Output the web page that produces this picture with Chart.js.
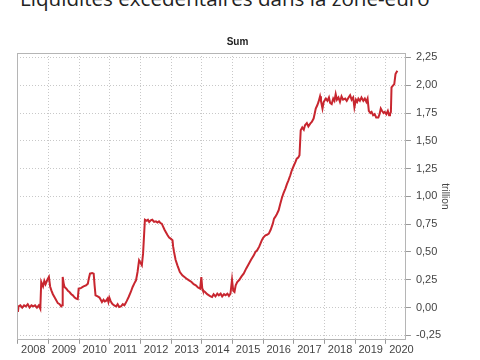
<!DOCTYPE html>
<html>
<head>
<meta charset="utf-8">
<script src="https://cdn.jsdelivr.net/npm/chart.js@4/dist/chart.umd.min.js"></script>
<style>
  html, body { margin: 0; padding: 0; background: #fff; width: 480px; height: 360px; overflow: hidden; }
  #heading { position: absolute; left: 20px; top: -13px; font-family: "Open Sans", "Liberation Sans", sans-serif; font-size: 20.6px; line-height: 22px; color: #222; white-space: nowrap; }
  #wrap { position: absolute; left: 0; top: 0; width: 480px; height: 360px; }
</style>
</head>
<body>
<div id="heading">Liquidités excédentaires dans la zone-euro</div>
<div id="wrap"><canvas id="c" width="480" height="360"></canvas></div>
<script>
// Decimal year of each observation
const years = [
  2008.00, 2008.02, 2008.08, 2008.14, 2008.20, 2008.26, 2008.32, 2008.38, 2008.44, 2008.50,
  2008.56, 2008.62, 2008.68, 2008.73, 2008.76, 2008.82, 2008.86, 2008.90, 2008.96, 2009.01,
  2009.05, 2009.09, 2009.14, 2009.19, 2009.24, 2009.30, 2009.36, 2009.41, 2009.44, 2009.46,
  2009.49, 2009.52, 2009.58, 2009.63, 2009.68, 2009.74, 2009.79, 2009.85, 2009.90, 2009.95,
  2009.98, 2010.05, 2010.14, 2010.22, 2010.28, 2010.31, 2010.35, 2010.42, 2010.47, 2010.50,
  2010.53, 2010.60, 2010.66, 2010.70, 2010.74, 2010.79, 2010.83, 2010.87, 2010.92, 2010.95,
  2010.98, 2011.02, 2011.06, 2011.09, 2011.14, 2011.20, 2011.25, 2011.30, 2011.36, 2011.42,
  2011.47, 2011.50, 2011.55, 2011.61, 2011.68, 2011.74, 2011.80, 2011.85, 2011.90, 2011.95,
  2012.00, 2012.04, 2012.08, 2012.14, 2012.20, 2012.24, 2012.28, 2012.33, 2012.38, 2012.44,
  2012.50, 2012.55, 2012.60, 2012.65, 2012.69, 2012.73, 2012.78, 2012.82, 2012.88, 2012.93,
  2012.98, 2013.04, 2013.06, 2013.09, 2013.14, 2013.20, 2013.28, 2013.36, 2013.45, 2013.52,
  2013.58, 2013.66, 2013.73, 2013.80, 2013.87, 2013.94, 2013.98, 2014.01, 2014.03, 2014.10,
  2014.17, 2014.23, 2014.28, 2014.33, 2014.38, 2014.44, 2014.50, 2014.55, 2014.61, 2014.66,
  2014.72, 2014.77, 2014.83, 2014.88, 2014.93, 2014.98, 2015.02, 2015.06, 2015.10, 2015.15,
  2015.22, 2015.29, 2015.36, 2015.44, 2015.53, 2015.60, 2015.69, 2015.74, 2015.80, 2015.87,
  2015.95, 2016.00, 2016.07, 2016.12, 2016.18, 2016.24, 2016.31, 2016.35, 2016.39, 2016.44,
  2016.50, 2016.55, 2016.61, 2016.66, 2016.72, 2016.77, 2016.82, 2016.88, 2016.93, 2017.00,
  2017.05, 2017.09, 2017.14, 2017.18, 2017.22, 2017.27, 2017.32, 2017.36, 2017.42, 2017.47,
  2017.53, 2017.58, 2017.64, 2017.68, 2017.71, 2017.76, 2017.80, 2017.85, 2017.88, 2017.93,
  2017.97, 2018.04, 2018.09, 2018.14, 2018.18, 2018.23, 2018.28, 2018.32, 2018.36, 2018.40,
  2018.45, 2018.50, 2018.55, 2018.60, 2018.67, 2018.72, 2018.78, 2018.83, 2018.88, 2018.93,
  2018.97, 2019.02, 2019.06, 2019.10, 2019.15, 2019.20, 2019.26, 2019.31, 2019.36, 2019.40,
  2019.44, 2019.49, 2019.53, 2019.58, 2019.63, 2019.68, 2019.75, 2019.79, 2019.83, 2019.87,
  2019.92, 2019.96, 2020.01, 2020.06, 2020.10, 2020.13, 2020.16, 2020.18, 2020.24, 2020.27,
  2020.31, 2020.37
];
// Excess liquidity, trillion EUR
const sumValues = [
  -0.04, 0.01, 0.02, 0.00, 0.02, 0.01, 0.03, 0.00, 0.02, 0.01,
  0.02, 0.00, 0.02, -0.01, 0.23, 0.19, 0.24, 0.21, 0.25, 0.275,
  0.19, 0.155, 0.12, 0.095, 0.07, 0.04, 0.03, 0.01, 0.02, 0.275,
  0.22, 0.185, 0.17, 0.15, 0.14, 0.12, 0.11, 0.09, 0.08, 0.075,
  0.17, 0.175, 0.19, 0.20, 0.215, 0.26, 0.305, 0.31, 0.305, 0.20,
  0.11, 0.10, 0.09, 0.07, 0.05, 0.07, 0.055, 0.06, 0.08, 0.05,
  0.09, 0.06, 0.04, 0.03, 0.02, 0.01, 0.03, 0.005, 0.01, 0.03,
  0.02, 0.035, 0.06, 0.095, 0.14, 0.185, 0.22, 0.245, 0.32, 0.425,
  0.40, 0.38, 0.485, 0.79, 0.78, 0.79, 0.77, 0.785, 0.79, 0.77,
  0.775, 0.765, 0.775, 0.76, 0.755, 0.73, 0.70, 0.68, 0.65, 0.63,
  0.62, 0.605, 0.55, 0.50, 0.43, 0.38, 0.32, 0.29, 0.27, 0.255,
  0.245, 0.23, 0.21, 0.20, 0.18, 0.17, 0.275, 0.17, 0.155, 0.14,
  0.12, 0.11, 0.10, 0.095, 0.12, 0.10, 0.125, 0.11, 0.125, 0.10,
  0.12, 0.11, 0.125, 0.105, 0.125, 0.25, 0.15, 0.14, 0.20, 0.23,
  0.25, 0.28, 0.305, 0.35, 0.395, 0.43, 0.47, 0.50, 0.515, 0.55,
  0.605, 0.63, 0.65, 0.655, 0.665, 0.70, 0.755, 0.80, 0.815, 0.84,
  0.875, 0.93, 0.99, 1.03, 1.07, 1.11, 1.145, 1.19, 1.235, 1.28,
  1.31, 1.34, 1.35, 1.37, 1.595, 1.62, 1.60, 1.64, 1.66, 1.63,
  1.655, 1.67, 1.70, 1.75, 1.79, 1.82, 1.85, 1.90, 1.86, 1.79,
  1.85, 1.88, 1.86, 1.89, 1.84, 1.83, 1.88, 1.86, 1.92, 1.87,
  1.89, 1.85, 1.90, 1.87, 1.88, 1.86, 1.89, 1.91, 1.87, 1.89,
  1.80, 1.87, 1.85, 1.88, 1.86, 1.89, 1.86, 1.88, 1.85, 1.88,
  1.77, 1.75, 1.76, 1.73, 1.74, 1.71, 1.71, 1.74, 1.79, 1.77,
  1.75, 1.76, 1.74, 1.77, 1.73, 1.74, 1.76, 1.98, 2.00, 2.01,
  2.10, 2.13
];
const yTicks = [-0.25, 0.00, 0.25, 0.50, 0.75, 1.00, 1.25, 1.50, 1.75, 2.00, 2.25];
const yearTicks = [2008, 2009, 2010, 2011, 2012, 2013, 2014, 2015, 2016, 2017, 2018, 2019, 2020];

const points = years.map((x, i) => ({ x: x, y: sumValues[i] }));

const frame = {
  id: 'frame',
  afterDraw(chart) {
    const a = chart.chartArea, ctx = chart.ctx;
    ctx.save();
    ctx.setLineDash([]);
    ctx.strokeStyle = '#b5b5b5';
    ctx.lineWidth = 1;
    ctx.strokeRect(Math.round(a.left) + 0.5, Math.round(a.top) + 0.5, Math.round(a.right - a.left) - 1, Math.round(a.bottom - a.top) - 1);
    ctx.restore();
  }
};

new Chart(document.getElementById('c'), {
  type: 'line',
  data: {
    datasets: [{
      label: 'Sum',
      data: points,
      borderColor: '#c8262f',
      borderWidth: 2,
      pointRadius: 0,
      tension: 0,
      fill: false
    }]
  },
  options: {
    responsive: false,
    animation: false,
    layout: { padding: { left: 17, right: 22, top: 36, bottom: 3 } },
    plugins: {
      legend: { display: false },
      tooltip: { enabled: false },
      title: {
        display: true,
        text: 'Sum',
        color: '#222',
        font: { family: 'Liberation Sans, Arial, sans-serif', size: 10, weight: 'bold' },
        padding: { top: 0, bottom: 5 }
      }
    },
    scales: {
      x: {
        type: 'linear',
        min: 2007.97,
        max: 2020.65,
        afterBuildTicks: (s) => { s.ticks = yearTicks.map(v => ({ value: v })); },
        grid: {
          color: '#c8c8c8',
          drawTicks: true,
          tickLength: 4,
          tickColor: '#999',
          tickBorderDash: []
        },
        border: { display: true, color: '#b5b5b5', dash: [1, 2] },
        ticks: {
          maxRotation: 0,
          autoSkip: false,
          padding: 0,
          labelOffset: 15.4,
          color: '#444',
          font: { family: 'Liberation Sans, Arial, sans-serif', size: 11 },
          callback: (v) => String(v)
        }
      },
      y: {
        type: 'linear',
        position: 'right',
        min: -0.29,
        max: 2.29,
        afterBuildTicks: (s) => { s.ticks = yTicks.map(v => ({ value: v })); },
        grid: {
          color: '#c8c8c8',
          drawTicks: true,
          tickLength: 5,
          tickColor: '#999',
          tickBorderDash: []
        },
        border: { display: true, color: '#b5b5b5', dash: [1, 2] },
        ticks: {
          padding: 5,
          color: '#444',
          font: { family: 'Liberation Sans, Arial, sans-serif', size: 11 },
          callback: (v) => v.toFixed(2).replace('.', ',')
        },
        title: {
          display: true,
          text: 'trillion',
          color: '#444',
          padding: { top: 7, bottom: -7 },
          font: { family: 'Liberation Sans, Arial, sans-serif', size: 10 }
        }
      }
    }
  },
  plugins: [frame]
});
</script>
</body>
</html>
